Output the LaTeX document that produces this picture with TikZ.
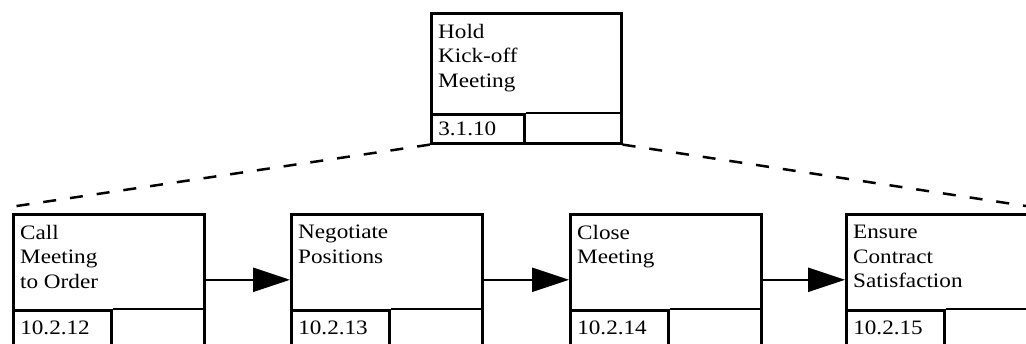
\documentclass[tikz,border=0pt]{standalone}
\usepackage{fontspec}
\setmainfont{Liberation Serif}[FakeStretch=1.13]
\usepackage{tikz}
\usetikzlibrary{arrows.meta,positioning}

\begin{document}
\begin{tikzpicture}[
    x=1pt, y=-1pt,
    font=\fontsize{20.5}{24.5}\selectfont,
    task/.style={draw, line width=2.6pt, minimum width=191pt, minimum height=131pt, anchor=north west, inner sep=0pt},
    toptask/.style={task, minimum width=190pt, minimum height=130pt},
    tasktext/.style={anchor=north west, align=left, inner xsep=8pt, inner ysep=12pt},
    idcell/.style={draw, line width=2.6pt, anchor=south west, minimum height=35pt, text width=84pt, inner xsep=7pt, align=left},
    topid/.style={idcell, minimum height=29pt, text width=79pt},
    divider/.style={line width=2.6pt},
    decomp/.style={dashed, dash pattern=on 13pt off 14pt, line width=2.5pt},
    flow/.style={-{Triangle[length=37pt,width=24pt]}, line width=2.3pt}
]
\useasboundingbox (0,0) rectangle (1026,343);

% parent task
\node[toptask] (hold) at (430,12) {};
\node[tasktext] at (hold.north west) {Hold\\Kick-off\\Meeting};
\node[topid] (holdid) at (hold.south west) {3.1.10};
\draw[divider] (holdid.north east) -- (holdid.north east -| hold.east);

% child tasks
\node[task] (call) at (12,213) {};
\node[tasktext] at (call.north west) {Call\\Meeting\\to Order};
\node[idcell] (callid) at (call.south west) {10.2.12};
\draw[divider] (callid.north east) -- (callid.north east -| call.east);

\node[task] (nego) at (290,213) {};
\node[tasktext] at (nego.north west) {Negotiate\\Positions};
\node[idcell] (negoid) at (nego.south west) {10.2.13};
\draw[divider] (negoid.north east) -- (negoid.north east -| nego.east);

\node[task] (close) at (569,213) {};
\node[tasktext] at (close.north west) {Close\\Meeting};
\node[idcell] (closeid) at (close.south west) {10.2.14};
\draw[divider] (closeid.north east) -- (closeid.north east -| close.east);

\node[task] (ensure) at (845,213) {};
\node[tasktext] at (ensure.north west) {Ensure\\Contract\\Satisfaction};
\node[idcell] (ensureid) at (ensure.south west) {10.2.15};
\draw[divider] (ensureid.north east) -- (ensureid.north east -| ensure.east);

% decomposition
\coordinate (leftend) at (10,207);
\coordinate (rightend) at (1026,206);
\draw[decomp] (hold.south west) -- (leftend);
\draw[decomp] (hold.south east) -- (rightend);

% sequence
\draw[flow] (call) -- (nego);
\draw[flow] (nego) -- (close);
\draw[flow] (close) -- (ensure);
\end{tikzpicture}
\end{document}
